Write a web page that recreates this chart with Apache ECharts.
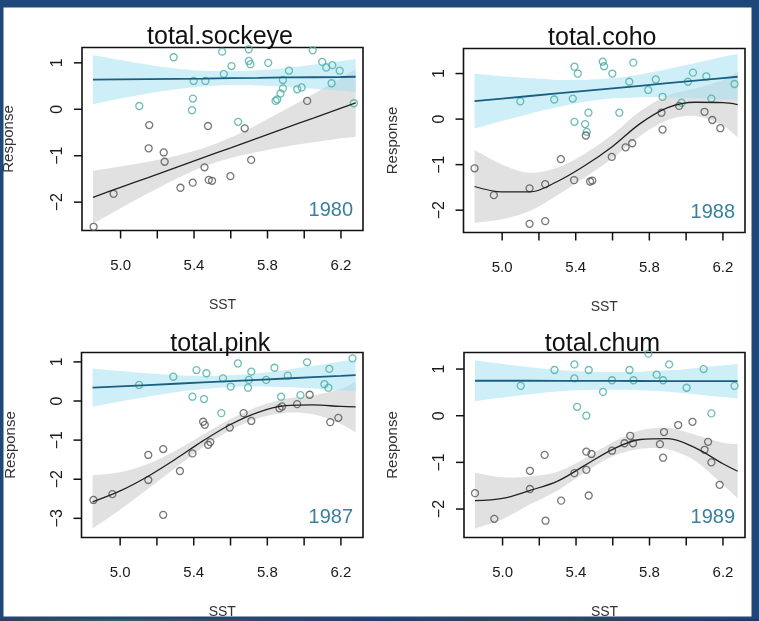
<!DOCTYPE html>
<html>
<head>
<meta charset="utf-8">
<script src="https://cdn.jsdelivr.net/npm/echarts@6/dist/echarts.min.js"></script>
<style>
  html, body { margin: 0; padding: 0; background: #1e477a; }
  #main { width: 759px; height: 621px; }
</style>
</head>
<body>
<div id="main"></div>
<script>
const sst = [4.85, 5.0, 5.15, 5.3, 5.45, 5.6, 5.75, 5.9, 6.05, 6.2, 6.28];

// ---- total.sockeye (1980) ----
const sockeyeEarly = [[5.289,1.12],[5.553,1.24],[5.698,1.29],[6.046,1.27],[5.604,0.93],[5.698,1.04],[5.707,0.97],[5.804,1.0],[5.917,0.83],[6.098,1.02],[6.12,0.9],[6.153,0.95],[6.193,0.83],[5.562,0.76],[5.462,0.61],[5.398,0.61],[5.884,0.63],[5.884,0.45],[5.871,0.34],[5.853,0.21],[5.844,0.18],[5.962,0.43],[5.986,0.47],[6.149,0.56],[6.27,0.13],[5.102,0.07],[5.394,0.23],[5.389,-0.02],[5.64,-0.27]];
const sockeyeLate = [[6.016,0.18],[5.156,-0.34],[5.476,-0.36],[5.676,-0.41],[5.153,-0.84],[5.235,-0.93],[5.24,-1.13],[5.711,-1.09],[5.457,-1.25],[5.598,-1.44],[5.48,-1.52],[5.498,-1.54],[5.393,-1.58],[5.326,-1.69],[4.962,-1.82],[4.853,-2.53]];
const sockeyeLin   = [0.64, 0.645, 0.65, 0.655, 0.66, 0.67, 0.675, 0.685, 0.69, 0.695, 0.70];
const sockeyeLinHi = [1.17, 1.06, 0.96, 0.88, 0.83, 0.82, 0.84, 0.89, 0.96, 1.04, 1.08];
const sockeyeLinLo = [0.11, 0.23, 0.34, 0.43, 0.49, 0.52, 0.51, 0.48, 0.44, 0.40, 0.37];
const sockeyeFit   = [-1.895, -1.68, -1.47, -1.255, -1.04, -0.83, -0.615, -0.40, -0.19, 0.025, 0.14];
const sockeyeFitHi = [-1.325, -1.23, -1.13, -1.005, -0.84, -0.61, -0.315, 0.0, 0.33, 0.675, 0.87];
const sockeyeFitLo = [-2.465, -2.13, -1.81, -1.505, -1.24, -1.05, -0.915, -0.80, -0.71, -0.625, -0.59];

// ---- total.coho (1988) ----
const cohoEarly = [[5.393,1.15],[5.411,1.0],[5.547,1.26],[5.554,1.16],[5.599,1.0],[5.713,1.24],[5.691,0.82],[5.835,0.87],[5.794,0.64],[5.872,0.49],[5.975,0.36],[6.037,1.02],[6.11,0.94],[6.01,0.82],[6.137,0.45],[6.263,0.77],[5.283,0.43],[5.099,0.39],[5.384,0.45],[5.469,0.14],[5.637,0.14],[5.393,-0.06],[5.451,-0.11],[5.46,-0.28]];
const cohoLate = [[4.85,-1.08],[4.955,-1.67],[5.149,-1.52],[5.234,-1.43],[5.149,-2.3],[5.234,-2.24],[5.319,-0.88],[5.391,-1.34],[5.478,-1.37],[5.49,-1.35],[5.596,-0.83],[5.671,-0.62],[5.707,-0.53],[5.866,0.14],[5.872,-0.23],[5.962,0.29],[6.1,0.16],[6.142,-0.02],[6.186,-0.2],[5.455,-0.36]];
const cohoLin   = [0.395, 0.451, 0.507, 0.563, 0.619, 0.675, 0.731, 0.788, 0.844, 0.9, 0.93];
const cohoLinHi = [0.995, 0.94, 0.90, 0.86, 0.86, 0.895, 0.98, 1.10, 1.23, 1.37, 1.43];
const cohoLinLo = [-0.205, -0.04, 0.12, 0.26, 0.38, 0.455, 0.48, 0.48, 0.46, 0.43, 0.43];
const cohoFit   = [-1.48, -1.60, -1.60, -1.37, -1.02, -0.60, -0.10, 0.25, 0.37, 0.36, 0.32];
const cohoFitHi = [-0.68, -1.0, -1.18, -1.07, -0.76, -0.34, 0.17, 0.52, 0.67, 0.86, 1.04];
const cohoFitLo = [-2.28, -2.2, -2.02, -1.67, -1.28, -0.86, -0.37, -0.02, 0.07, -0.14, -0.40];

// ---- total.pink (1987) ----
const pinkEarly = [[6.263,1.09],[5.64,0.96],[6.016,0.99],[5.839,0.85],[5.415,0.79],[5.469,0.71],[5.713,0.75],[6.137,0.82],[5.289,0.62],[5.559,0.58],[5.911,0.65],[5.794,0.54],[5.7,0.54],[5.103,0.41],[5.601,0.37],[5.695,0.34],[6.11,0.43],[6.132,0.34],[5.393,0.11],[5.456,0.05],[5.55,-0.31],[5.875,0.11],[5.98,0.15]];
const pinkLate = [[4.855,-2.53],[4.958,-2.38],[5.153,-2.02],[5.153,-1.38],[5.234,-1.23],[5.234,-2.91],[5.325,-1.79],[5.393,-1.34],[5.478,-1.12],[5.49,-1.05],[5.451,-0.53],[5.46,-0.61],[5.596,-0.68],[5.671,-0.31],[5.713,-0.51],[5.866,-0.19],[5.88,-0.14],[5.962,-0.08],[6.03,0.16],[6.142,-0.54],[6.186,-0.43]];
const pinkLin   = [0.34, 0.374, 0.407, 0.441, 0.474, 0.508, 0.541, 0.575, 0.609, 0.642, 0.66];
const pinkLinHi = [0.83, 0.764, 0.707, 0.661, 0.644, 0.658, 0.711, 0.795, 0.899, 1.012, 1.07];
const pinkLinLo = [-0.15, -0.016, 0.107, 0.221, 0.304, 0.358, 0.371, 0.355, 0.319, 0.272, 0.25];
const pinkFit   = [-2.58, -2.30, -1.93, -1.49, -1.02, -0.60, -0.29, -0.12, -0.10, -0.14, -0.15];
const pinkFitHi = [-1.90, -1.82, -1.61, -1.27, -0.86, -0.46, -0.14, 0.06, 0.14, 0.31, 0.50];
const pinkFitLo = [-3.26, -2.78, -2.25, -1.71, -1.18, -0.74, -0.44, -0.30, -0.34, -0.59, -0.80];

// ---- total.chum (1989) ----
const chumEarly = [[5.794,1.33],[5.391,1.1],[5.283,0.98],[5.469,0.98],[5.691,0.98],[5.907,1.1],[6.095,1.0],[5.839,0.88],[5.391,0.8],[5.596,0.76],[5.713,0.76],[5.874,0.76],[5.099,0.64],[5.547,0.51],[6.002,0.6],[6.263,0.64],[5.406,0.19],[5.456,0.0],[6.137,0.05]];
const chumLate = [[4.85,-1.66],[4.955,-2.21],[5.149,-1.18],[5.149,-1.57],[5.229,-0.84],[5.234,-2.25],[5.319,-1.82],[5.391,-1.23],[5.456,-1.16],[5.469,-1.71],[5.456,-0.77],[5.484,-0.82],[5.596,-0.75],[5.664,-0.59],[5.695,-0.43],[5.71,-0.59],[5.857,-0.61],[5.879,-0.35],[5.874,-0.9],[5.956,-0.2],[6.034,-0.13],[6.119,-0.56],[6.1,-0.73],[6.137,-1.0],[6.182,-1.48]];
const chumLin   = [0.75, 0.75, 0.75, 0.748, 0.746, 0.745, 0.744, 0.742, 0.741, 0.74, 0.74];
const chumLinHi = [1.19, 1.11, 1.04, 0.98, 0.95, 0.935, 0.944, 0.972, 1.02, 1.08, 1.11];
const chumLinLo = [0.31, 0.39, 0.46, 0.52, 0.55, 0.555, 0.544, 0.512, 0.46, 0.40, 0.37];
const chumFit   = [-1.82, -1.77, -1.60, -1.40, -1.06, -0.72, -0.51, -0.49, -0.69, -1.03, -1.19];
const chumFitHi = [-1.22, -1.32, -1.30, -1.20, -0.91, -0.57, -0.31, -0.26, -0.41, -0.58, -0.61];
const chumFitLo = [-2.42, -2.22, -1.90, -1.60, -1.21, -0.87, -0.71, -0.72, -0.97, -1.48, -1.77];

const xTicks = [5.0, 5.2, 5.4, 5.6, 5.8, 6.0, 6.2];
const xLabels = [5.0, 5.4, 5.8, 6.2];
const xMin = 4.79, xMax = 6.32;

const panels = [
  { title: 'total.sockeye', year: '1980', early: sockeyeEarly, late: sockeyeLate,
    lin: sockeyeLin, linHi: sockeyeLinHi, linLo: sockeyeLinLo, fit: sockeyeFit, fitHi: sockeyeFitHi, fitLo: sockeyeFitLo,
    ymin: -2.61, ymax: 1.33, yTicks: [-2, -1, 0, 1],
    grid: { left: 81, top: 47.5, width: 282, height: 183 }, titleY: 37.5, nameGap: 66 },
  { title: 'total.coho', year: '1988', early: cohoEarly, late: cohoLate,
    lin: cohoLin, linHi: cohoLinHi, linLo: cohoLinLo, fit: cohoFit, fitHi: cohoFitHi, fitLo: cohoFitLo,
    ymin: -2.49, ymax: 1.55, yTicks: [-2, -1, 0, 1],
    grid: { left: 463.5, top: 48.5, width: 281.5, height: 184 }, titleY: 38, nameGap: 63 },
  { title: 'total.pink', year: '1987', early: pinkEarly, late: pinkLate,
    lin: pinkLin, linHi: pinkLinHi, linLo: pinkLinLo, fit: pinkFit, fitHi: pinkFitHi, fitLo: pinkFitLo,
    ymin: -3.49, ymax: 1.24, yTicks: [-3, -2, -1, 0, 1],
    grid: { left: 81.5, top: 352.5, width: 281.5, height: 185 }, titleY: 344, nameGap: 63 },
  { title: 'total.chum', year: '1989', early: chumEarly, late: chumLate,
    lin: chumLin, linHi: chumLinHi, linLo: chumLinLo, fit: chumFit, fitHi: chumFitHi, fitLo: chumFitLo,
    ymin: -2.61, ymax: 1.355, yTicks: [-2, -1, 0, 1],
    grid: { left: 464, top: 352.5, width: 281, height: 185 }, titleY: 344, nameGap: 64 }
];

const FONT = '"Liberation Sans", Arial, sans-serif';
const frameBlue = '#1e477a';
const TICK_LEN = 8;

const chart = echarts.init(document.getElementById('main'));

const grids = [], xAxes = [], yAxes = [], series = [], texts = [];

// confidence band as one smoothed polygon; the end points are doubled so the ends stay square
function band(i, lo, hi, color) {
  return {
    type: 'custom', xAxisIndex: i, yAxisIndex: i, silent: true, clip: true,
    data: sst.map((x, k) => [x, lo[k], hi[k]]),
    renderItem: function (params, api) {
      if (params.dataIndex !== 0) return null;
      const upper = sst.map((x, k) => api.coord([x, hi[k]]));
      const lower = sst.map((x, k) => api.coord([x, lo[k]])).reverse();
      const pts = [upper[0]].concat(upper, [upper[upper.length - 1], lower[0]], lower, [lower[lower.length - 1]]);
      return {
        type: 'polygon',
        shape: { points: pts, smooth: 0.3 },
        style: { fill: color, stroke: null }
      };
    }
  };
}

// R-style outward tick marks: x from the axis scale, edge from the grid rectangle
function tickMarks(i, yTicks) {
  return {
    type: 'custom', xAxisIndex: i, yAxisIndex: i, silent: true, clip: false, z: 10,
    data: [[5.5, 0]],
    renderItem: function (params, api) {
      const cs = params.coordSys;
      const children = [];
      xTicks.forEach(v => {
        const px = api.coord([v, 0])[0];
        children.push({ type: 'rect', shape: { x: px - 0.75, y: cs.y + cs.height, width: 1.5, height: TICK_LEN },
          style: { fill: '#111' } });
      });
      yTicks.forEach(v => {
        const py = api.coord([5.5, v])[1];
        children.push({ type: 'rect', shape: { x: cs.x - TICK_LEN, y: py - 0.75, width: TICK_LEN, height: 1.5 },
          style: { fill: '#111' } });
      });
      return { type: 'group', children: children };
    }
  };
}

panels.forEach((p, i) => {
  grids.push(Object.assign({ show: true, borderColor: '#111', borderWidth: 1.6, backgroundColor: 'transparent' }, p.grid));
  xAxes.push({
    gridIndex: i, type: 'value', min: xMin, max: xMax,
    axisLine: { show: false, onZero: false }, splitLine: { show: false }, axisTick: { show: false },
    axisLabel: { customValues: xLabels, margin: 28, fontSize: 15, fontFamily: FONT, color: '#1a1a1a',
      formatter: v => v.toFixed(1) },
    name: 'SST', nameLocation: 'middle', nameGap: 68,
    nameTextStyle: { fontSize: 14, fontFamily: FONT, color: '#333' }
  });
  yAxes.push({
    gridIndex: i, type: 'value', min: p.ymin, max: p.ymax,
    axisLine: { show: false, onZero: false }, splitLine: { show: false }, axisTick: { show: false },
    axisLabel: { customValues: p.yTicks, rotate: 90, margin: 16, fontSize: 16, fontFamily: FONT, color: '#1a1a1a',
      formatter: v => (v < 0 ? '\u2212' + Math.abs(v) : String(v)) },
    name: 'Response', nameLocation: 'middle', nameRotate: 90, nameGap: p.nameGap,
    nameTextStyle: { fontSize: 15, fontFamily: FONT, color: '#333' }
  });

  series.push(band(i, p.fitLo, p.fitHi, 'rgba(195,195,195,0.5)'));
  series.push(band(i, p.linLo, p.linHi, 'rgba(165,226,243,0.55)'));
  series.push({
    type: 'scatter', xAxisIndex: i, yAxisIndex: i, data: p.early, symbol: 'circle', symbolSize: 7, silent: true,
    itemStyle: { color: 'transparent', borderColor: '#4aaca4', borderWidth: 1.3 }
  });
  series.push({
    type: 'scatter', xAxisIndex: i, yAxisIndex: i, data: p.late, symbol: 'circle', symbolSize: 7, silent: true,
    itemStyle: { color: 'transparent', borderColor: '#555', borderWidth: 1.3 }
  });
  series.push({
    type: 'line', xAxisIndex: i, yAxisIndex: i, data: sst.map((x, k) => [x, p.fit[k]]),
    smooth: 0.35, symbol: 'none', silent: true, lineStyle: { color: '#222', width: 1.3 }
  });
  series.push({
    type: 'line', xAxisIndex: i, yAxisIndex: i, data: sst.map((x, k) => [x, p.lin[k]]),
    symbol: 'none', silent: true, lineStyle: { color: '#1b5f80', width: 1.8 }
  });
  series.push(tickMarks(i, p.yTicks));

  const g = p.grid;
  texts.push({
    type: 'text', x: g.left + g.width / 2 - 2, y: p.titleY, z: 50,
    style: { text: p.title, fontSize: 25, fontFamily: FONT, fill: '#111', align: 'center', verticalAlign: 'middle' }
  });
  texts.push({
    type: 'text', x: g.left + g.width - 10, y: g.top + g.height - 20, z: 50,
    style: { text: p.year, fontSize: 20, fontFamily: FONT, fill: '#3a809c', align: 'right', verticalAlign: 'middle' }
  });
});

// slide frame around the plot
const frame = [
  { type: 'rect', z: 100, shape: { x: 0, y: 0, width: 759, height: 7.5 }, style: { fill: frameBlue } },
  { type: 'rect', z: 100, shape: { x: 0, y: 0, width: 3.5, height: 621 }, style: { fill: frameBlue } },
  { type: 'rect', z: 100, shape: { x: 751.5, y: 0, width: 7.5, height: 621 }, style: { fill: frameBlue } },
  { type: 'rect', z: 100, shape: { x: 0, y: 616.5, width: 759, height: 4.5 }, style: { fill: frameBlue } },
  { type: 'rect', z: 101, shape: { x: 0, y: 619, width: 759, height: 2 },
    style: { fill: new echarts.graphic.LinearGradient(0, 0, 1, 0, [
      { offset: 0, color: '#5a2f3c' }, { offset: 0.15, color: '#2f5f5a' }, { offset: 0.3, color: '#6a3550' },
      { offset: 0.5, color: '#283c66' }, { offset: 0.7, color: '#5a3a3a' }, { offset: 1, color: '#2a3560' }
    ]) } }
];

chart.setOption({
  backgroundColor: '#ffffff',
  animation: false,
  grid: grids,
  xAxis: xAxes,
  yAxis: yAxes,
  series: series,
  graphic: { elements: texts.concat(frame) }
});
</script>
</body>
</html>
